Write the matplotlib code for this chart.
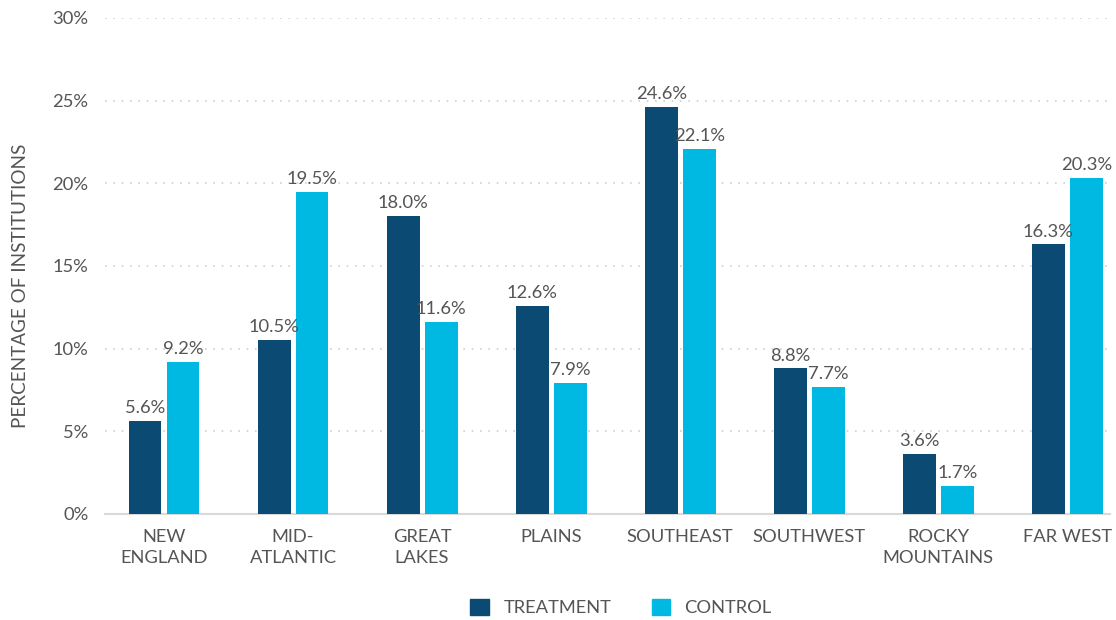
import matplotlib.pyplot as plt
import numpy as np
from matplotlib.patches import Patch

regions = ["NEW\nENGLAND", "MID-\nATLANTIC", "GREAT\nLAKES", "PLAINS",
           "SOUTHEAST", "SOUTHWEST", "ROCKY\nMOUNTAINS", "FAR WEST"]
treatment = [5.6, 10.5, 18.0, 12.6, 24.6, 8.8, 3.6, 16.3]
control = [9.2, 19.5, 11.6, 7.9, 22.1, 7.7, 1.7, 20.3]

dark_blue = "#0a4a73"
light_blue = "#00b9e2"
text_gray = "#555555"

plt.rcParams["font.family"] = ["Lato", "DejaVu Sans"]
fs = 13.2

fig = plt.figure(figsize=(11.16, 6.2), dpi=100)
ax = fig.add_axes([0.0941, 0.171, 0.9005, 0.800])

x = np.arange(len(regions))
w = 0.255
off = 0.147
b1 = ax.bar(x - off, treatment, w, color=dark_blue, label="TREATMENT", zorder=3)
b2 = ax.bar(x + off, control, w, color=light_blue, label="CONTROL", zorder=3)

for bars, vals in ((b1, treatment), (b2, control)):
    for bar, v in zip(bars, vals):
        ax.text(bar.get_x() + bar.get_width() / 2, v + 0.3, f"{v:.1f}%",
                ha="center", va="bottom", fontsize=fs, color=text_gray)

ax.set_xlim(-0.457, 7.33)
ax.set_ylim(0, 30)
ax.set_yticks(range(0, 31, 5))
ax.set_yticklabels([f"{t}%" for t in range(0, 31, 5)])
ax.set_xticks(x)
ax.set_xticklabels(regions, linespacing=1.35)

ax.yaxis.grid(True, linestyle=(0, (1, 4)), color="#cfcfcf", linewidth=1.2, zorder=0)
ax.set_axisbelow(True)
for s in ("top", "right", "left"):
    ax.spines[s].set_visible(False)
ax.spines["bottom"].set_color("#d9d9d9")
ax.spines["bottom"].set_linewidth(1.5)
ax.tick_params(axis="both", length=0, labelsize=fs, colors=text_gray)
ax.tick_params(axis="x", pad=11)
ax.tick_params(axis="y", pad=12)

ax.set_ylabel("PERCENTAGE OF INSTITUTIONS", fontsize=13.6, color=text_gray)
ax.yaxis.set_label_coords(-0.076, 0.46)

handles = [Patch(color=dark_blue), Patch(color=light_blue)]
fig.legend(handles, ["TREATMENT", "CONTROL"], loc="center", bbox_to_anchor=(0.5565, 0.02),
           ncol=2, frameon=False, fontsize=fs, labelcolor=text_gray,
           handlelength=1.0, handleheight=1.0, columnspacing=2.2, handletextpad=0.8)

fig.savefig("out.png", dpi=100)
